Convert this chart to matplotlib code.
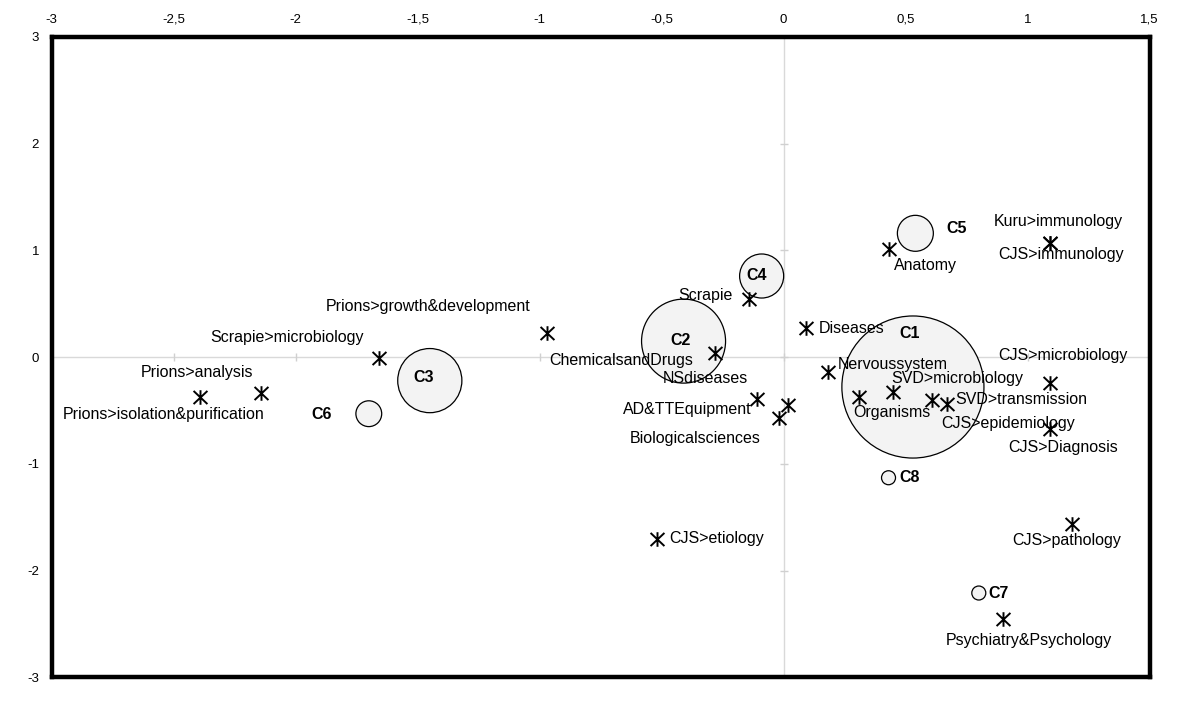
import numpy as np
import matplotlib
matplotlib.use("Agg")
import matplotlib.pyplot as plt
from matplotlib.path import Path

plt.rcParams["font.family"] = ["Liberation Sans", "DejaVu Sans"]

# term points (correspondence map coordinates)
term_labels = [
    "Prions>isolation&purification", "Prions>analysis", "Scrapie>microbiology",
    "Prions>growth&development", "Scrapie", "ChemicalsandDrugs", "NSdiseases",
    "Diseases", "Nervoussystem", "AD&TTEquipment", "Biologicalsciences",
    "Organisms", "SVD>microbiology", "SVD>transmission", "CJS>epidemiology",
    "CJS>Diagnosis", "Anatomy", "Kuru>immunology", "CJS>immunology",
    "CJS>microbiology", "CJS>pathology", "Psychiatry&Psychology", "CJS>etiology",
]
term_x = [-2.39, -2.14, -1.66, -0.97, -0.14, -0.28, 0.02, 0.09, 0.18, -0.11, -0.02,
          0.31, 0.45, 0.67, 0.61, 1.09, 0.43, 1.09, 1.09, 1.09, 1.18, 0.90, -0.52]
term_y = [-0.37, -0.34, -0.01, 0.23, 0.54, 0.04, -0.45, 0.27, -0.14, -0.39, -0.57,
          -0.37, -0.33, -0.44, -0.40, -0.67, 1.01, 1.07, 1.07, -0.24, -1.56, -2.45, -1.70]

# clusters (bubble area relative to smallest cluster)
cluster_labels = ["C1", "C2", "C3", "C4", "C5", "C6", "C7", "C8"]
cluster_x = [0.53, -0.41, -1.45, -0.09, 0.54, -1.70, 0.80, 0.43]
cluster_y = [-0.28, 0.15, -0.22, 0.76, 1.16, -0.53, -2.21, -1.13]
cluster_size = [103, 36, 21, 9.9, 6.6, 3.4, 1, 1]

x_ticks = [-3, -2.5, -2, -1.5, -1, -0.5, 0, 0.5, 1, 1.5]
y_ticks = [-3, -2, -1, 0, 1, 2, 3]

# label placement (pixel offsets from the point)
term_offsets = [(-37, -18), (-64, 21), (-92, 21), (-119, 26), (-44, 4), (-94, -8),
                (-83, 27), (46, 0), (65, 8), (-69, -11), (-84, -21), (33, -16),
                (64, 14), (74, 5), (76, -24), (14, -19), (37, -16), (9, 21),
                (12, -12), (13, 27), (-5, -17), (26, -22), (60, 0)]
cluster_offsets = [(-3, 54), (-3, 1), (-6, 3), (-5, 1), (31, 5), (-47, -1), (10, 0), (11, 0)]
cluster_ha = ["center", "center", "center", "center", "left", "center", "left", "left"]

# asterisk: vertical bar plus an X
star = Path([(0, -1), (0, 1), (-0.95, -0.9), (0.95, 0.9), (-0.95, 0.9), (0.95, -0.9)],
            [Path.MOVETO, Path.LINETO] * 3)

fig = plt.figure(figsize=(12, 7.1), dpi=100)
ax = fig.add_axes([0.043, 0.046, 0.915, 0.902])
ax.set_xlim(-3, 1.5)
ax.set_ylim(-3, 3)

ax.axhline(0, color="#d9d9d9", lw=1, zorder=0)
ax.axvline(0, color="#d9d9d9", lw=1, zorder=0)
ax.plot(x_ticks, [0] * len(x_ticks), ls="none", marker="|", ms=6, color="#d0d0d0", zorder=0)
ax.plot([0] * len(y_ticks), y_ticks, ls="none", marker="_", ms=6, color="#d0d0d0", zorder=0)

base = (14 * 0.72) ** 2
ax.scatter(cluster_x, cluster_y, s=np.array(cluster_size) * base,
           facecolor="#f3f3f3", edgecolor="black", linewidths=0.9, zorder=2)
for lab, x, y, off, ha in zip(cluster_labels, cluster_x, cluster_y, cluster_offsets, cluster_ha):
    ax.annotate(lab, (x, y), xytext=off, textcoords="offset pixels", ha=ha, va="center",
                fontsize=11.5, fontweight="bold", zorder=4)

ax.plot(term_x, term_y, ls="none", marker=star, ms=10.5, mew=1.4, color="black", zorder=3)
for lab, x, y, off in zip(term_labels, term_x, term_y, term_offsets):
    ax.annotate(lab, (x, y), xytext=off, textcoords="offset pixels", ha="center", va="center",
                fontsize=11.5, zorder=4)

ax.set_xticks(x_ticks)
ax.set_xticklabels([f"{t:g}".replace(".", ",") for t in x_ticks])
ax.set_yticks(y_ticks)
ax.set_yticklabels([f"{t:g}" for t in y_ticks])
ax.xaxis.tick_top()
ax.tick_params(axis="x", length=0, labelsize=9.5, pad=8)
ax.tick_params(axis="y", length=0, labelsize=9.5, pad=9)
for sp in ax.spines.values():
    sp.set_linewidth(3.2)
    sp.set_color("black")

fig.savefig("out.png", dpi=100)
